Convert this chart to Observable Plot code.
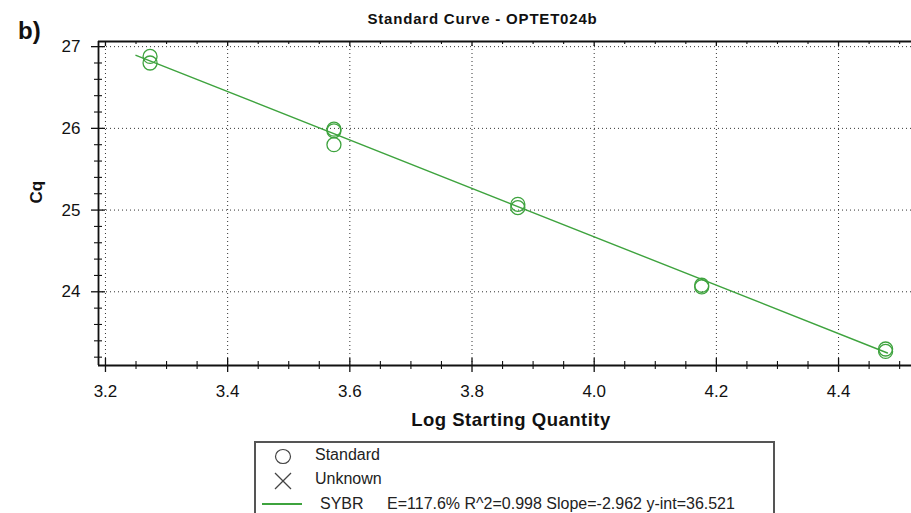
<!DOCTYPE html>
<html>
<head>
<meta charset="utf-8">
<script src="https://cdn.jsdelivr.net/npm/d3@7"></script>
<script src="https://cdn.jsdelivr.net/npm/@observablehq/plot@0.6"></script>
<style>
  html, body { margin: 0; padding: 0; background: #fff; }
  #wrap { position: relative; width: 911px; height: 513px; overflow: hidden; font-family: "Liberation Sans", Arial, sans-serif; }
  #title { position: relative; height: 32px; }
  #title .t { position: absolute; left: 0; width: 965px; top: 11px; text-align: center; font-weight: bold; font-size: 15px; line-height: 15px; letter-spacing: 0.8px; color: #111; }
  #title .b { position: absolute; left: 18px; top: 19px; font-weight: bold; font-size: 24px; line-height: 24px; color: #111; }
  #chart { position: relative; height: 408px; }
  #chart svg { display: block; overflow: visible; }
  #legend { position: absolute; left: 254px; top: 441px; width: 521px; height: 90px; box-sizing: border-box; border: 2px solid #555; }
  #legend .lt { position: absolute; font-size: 16px; line-height: 16px; color: #222; white-space: nowrap; }
  #legend svg { position: absolute; left: 0; top: 0; overflow: visible; }
</style>
</head>
<body>
<div id="wrap">
  <div id="title"><div class="b">b)</div><div class="t"></div></div>
  <div id="chart"></div>
  <div id="legend"></div>
</div>
<script>
// ---- data ----
const titleText = "Standard Curve - OPTET024b";
const panelLabel = "b)";
const xLabel = "Log Starting Quantity";
const yLabel = "Cq";
const stdLogQty = [3.273, 3.273, 3.574, 3.574, 3.574, 3.875, 3.875, 4.176, 4.176, 4.477, 4.477];
const stdCq     = [26.88, 26.80, 25.99, 25.97, 25.80, 25.07, 25.03, 24.08, 24.06, 23.30, 23.27];
const fitLogQty = [3.25, 4.48];
const fitCq     = [26.894, 23.251];
const xTicks = [3.2, 3.4, 3.6, 3.8, 4.0, 4.2, 4.4];
const yTicks = [24, 25, 26, 27];
const legendNames = ["Standard", "Unknown", "SYBR"];
const fitText = "E=117.6% R^2=0.998 Slope=-2.962 y-int=36.521";

// ---- build ----
const green = "#3ea33e";
const xDomain = [3.1886, 4.5194];
const yDomain = [23.098, 27.063];
const W = 911, H = 408, mL = 98, mR = 0, mT = 9, mB = 75;
const plotH = H - mT - mB, plotW = W - mL - mR;

const xMinor = d3.range(3.2, 4.52, 0.05).map(v => +v.toFixed(2)).filter(v => !xTicks.some(t => Math.abs(t - v) < 1e-6));
const yMinor = d3.range(23.2, 27.01, 0.2).map(v => +v.toFixed(1)).filter(v => !yTicks.some(t => Math.abs(t - v) < 1e-6));

const points = stdLogQty.map((x, i) => ({x, y: stdCq[i]}));
const fit = fitLogQty.map((x, i) => ({x, y: fitCq[i]}));

document.querySelector("#title .t").textContent = titleText;
document.querySelector("#title .b").textContent = panelLabel;

const ink = "#111";
const chart = Plot.plot({
  width: W, height: H,
  marginLeft: mL, marginRight: mR, marginTop: mT, marginBottom: mB,
  style: {fontFamily: "'Liberation Sans', Arial, sans-serif", background: "transparent", overflow: "visible"},
  x: {domain: xDomain, axis: null},
  y: {domain: yDomain, axis: null},
  marks: [
    // dotted grid
    Plot.ruleX(xTicks, {x: d => d, stroke: "#333", strokeDasharray: "1 3", strokeWidth: 1}),
    Plot.ruleY(yTicks, {y: d => d, stroke: "#333", strokeDasharray: "1 3", strokeWidth: 1}),
    // frame lines (left, bottom, top)
    Plot.ruleX([xDomain[0]], {x: d => d, stroke: ink, strokeWidth: 1.8}),
    Plot.ruleY([yDomain[0]], {y: d => d, stroke: ink, strokeWidth: 1.8}),
    Plot.ruleY([yDomain[1]], {y: d => d, stroke: ink, strokeWidth: 1.8}),
    // bottom ticks (crossing)
    Plot.tickX(xTicks, {x: d => d, insetTop: plotH - 7, insetBottom: -7, stroke: ink, strokeWidth: 1.3}),
    Plot.tickX(xMinor, {x: d => d, insetTop: plotH - 4, insetBottom: -4, stroke: ink, strokeWidth: 1.1}),
    // top ticks (inward)
    Plot.tickX(xTicks, {x: d => d, insetBottom: plotH - 5, stroke: ink, strokeWidth: 1.3}),
    Plot.tickX(xMinor, {x: d => d, insetBottom: plotH - 3, stroke: ink, strokeWidth: 1.1}),
    // left ticks (crossing)
    Plot.tickY(yTicks, {y: d => d, insetLeft: -7, insetRight: plotW - 7, stroke: ink, strokeWidth: 1.3}),
    Plot.tickY(yMinor, {y: d => d, insetLeft: -4, insetRight: plotW - 4, stroke: ink, strokeWidth: 1.1}),
    // tick labels
    Plot.text(xTicks, {x: d => d, text: d => d.toFixed(1), frameAnchor: "bottom", dy: 26, lineAnchor: "middle", fontSize: 17, fill: ink}),
    Plot.text(yTicks, {y: d => d, text: d => String(d), frameAnchor: "left", dx: -18, textAnchor: "end", lineAnchor: "middle", fontSize: 17, fill: ink}),
    // axis titles
    Plot.text([xLabel], {text: d => d, frameAnchor: "bottom", dx: 6, dy: 55, lineAnchor: "middle", fontSize: 18.5, fontWeight: "bold", fill: ink}),
    Plot.text([yLabel], {text: d => d, frameAnchor: "left", dx: -62, rotate: -90, lineAnchor: "middle", fontSize: 17, fontWeight: "bold", fill: ink}),
    // fit line and standards
    Plot.line(fit, {x: "x", y: "y", stroke: green, strokeWidth: 1.4}),
    Plot.dot(points, {x: "x", y: "y", r: 7, stroke: green, strokeWidth: 1.3, fill: "none"})
  ]
});
chart.querySelectorAll("text").forEach(t => { if (t.textContent === xLabel) t.setAttribute("letter-spacing", "0.5"); });
document.getElementById("chart").appendChild(chart);

// ---- legend (HTML + small SVG glyphs) ----
const lg = document.getElementById("legend");
const ox = 256, oy = 443; // inner origin of legend box (page coords)
const ns = "http://www.w3.org/2000/svg";
const gsvg = document.createElementNS(ns, "svg");
gsvg.setAttribute("width", 60); gsvg.setAttribute("height", 80);
function el(tag, attrs) { const e = document.createElementNS(ns, tag); for (const k in attrs) e.setAttribute(k, attrs[k]); gsvg.appendChild(e); return e; }
el("ellipse", {cx: 283 - ox, cy: 456.5 - oy, rx: 7.5, ry: 7, fill: "none", stroke: "#444", "stroke-width": 1.2});
el("line", {x1: 275 - ox, y1: 473 - oy, x2: 291 - ox, y2: 489 - oy, stroke: "#444", "stroke-width": 1.2});
el("line", {x1: 291 - ox, y1: 473 - oy, x2: 275 - ox, y2: 489 - oy, stroke: "#444", "stroke-width": 1.2});
el("line", {x1: 262 - ox, y1: 504 - oy, x2: 302 - ox, y2: 504 - oy, stroke: green, "stroke-width": 1.8});
lg.appendChild(gsvg);
function txt(s, x, capCenter) {
  const d = document.createElement("div");
  d.className = "lt"; d.textContent = s;
  d.style.left = (x - ox) + "px";
  d.style.top = (capCenter - 0.488 * 16 - oy) + "px";
  lg.appendChild(d);
}
txt(legendNames[0], 315, 454.5);
txt(legendNames[1], 315, 479);
txt(legendNames[2], 320, 503.5);
txt(fitText, 387, 503.5);
</script>
</body>
</html>
